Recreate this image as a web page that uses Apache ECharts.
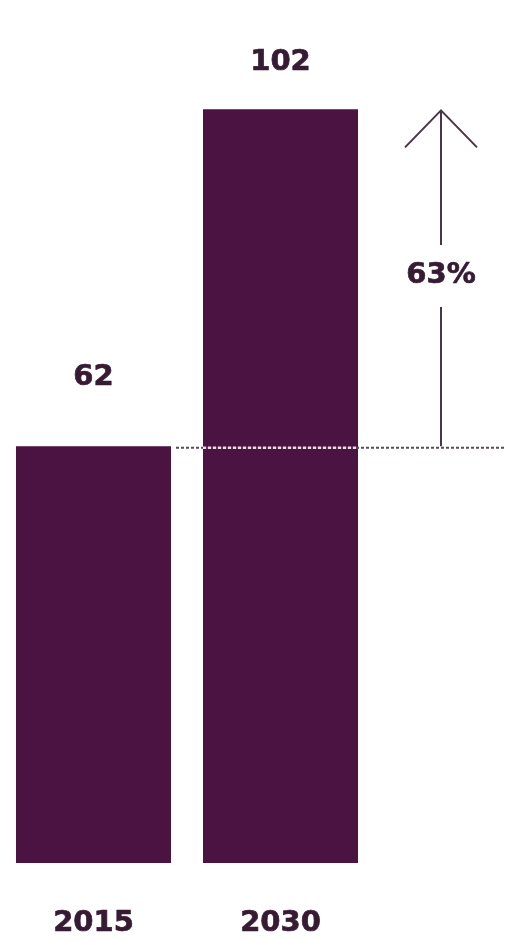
<!DOCTYPE html>
<html>
<head>
<meta charset="utf-8">
<script src="https://cdn.jsdelivr.net/npm/echarts@6/dist/echarts.min.js"></script>
<style>
  html, body { margin: 0; padding: 0; background: #ffffff; }
  #chart { width: 506px; height: 941px; }
</style>
</head>
<body>
<div id="chart"></div>
<script>
// Years and totals
const categories = ['2015', '2030'];
const values = [62, 102];
const growthLabel = '63%';

const BAR = '#4a1342';
const TEXT = '#361b33';
const FONT = '"DejaVu Sans", sans-serif';
const SIZE = 29;

const chart = echarts.init(document.getElementById('chart'));

// Label gap above each bar
const labelGap = [54, 32];

const heavyText = {
  color: TEXT,
  fontFamily: FONT,
  fontWeight: 'bold',
  fontSize: SIZE,
  textBorderColor: TEXT,
  textBorderWidth: 0.7
};

chart.setOption({
  animation: false,
  grid: { left: 0, right: 132, top: 42, bottom: 78 },
  xAxis: {
    type: 'category',
    data: categories,
    axisLine: { show: false },
    axisTick: { show: false },
    axisLabel: Object.assign({ margin: 46 }, heavyText)
  },
  yAxis: {
    type: 'value',
    min: 12.5,
    max: 110,
    show: false,
    splitLine: { show: false }
  },
  series: [{
    type: 'bar',
    barWidth: 155,
    itemStyle: { color: BAR },
    data: values.map((v, i) => ({
      value: v,
      label: { distance: labelGap[i] }
    })),
    label: Object.assign({ show: true, position: 'top' }, heavyText)
  }]
});

// Reference line at the 2015 level and the growth arrow up to the 2030 level
const baseY = chart.convertToPixel({ yAxisIndex: 0 }, values[0]);
const topY = chart.convertToPixel({ yAxisIndex: 0 }, values[1]);
const c1 = chart.convertToPixel({ xAxisIndex: 0 }, categories[0]);
const c2 = chart.convertToPixel({ xAxisIndex: 0 }, categories[1]);
const half = 155 / 2;
const arrowX = 441;
const labelY = 275;
const ARROW = '#4a3447';

chart.setOption({
  graphic: [
    {
      type: 'line', z: 10,
      shape: { x1: c1 + half + 5, y1: baseY + 1.5, x2: 506, y2: baseY + 1.5 },
      style: { stroke: '#5a4a56', lineWidth: 2, lineDash: [3, 2] }
    },
    {
      type: 'line', z: 11,
      shape: { x1: c2 - half, y1: baseY + 1.5, x2: c2 + half, y2: baseY + 1.5 },
      style: { stroke: '#f3d6ee', lineWidth: 2.5, lineDash: [3, 2] }
    },
    {
      type: 'line', z: 10,
      shape: { x1: arrowX, y1: topY + 1, x2: arrowX, y2: labelY - 30 },
      style: { stroke: ARROW, lineWidth: 2 }
    },
    {
      type: 'line', z: 10,
      shape: { x1: arrowX, y1: labelY + 32, x2: arrowX, y2: baseY },
      style: { stroke: ARROW, lineWidth: 2 }
    },
    {
      type: 'polyline', z: 10,
      shape: { points: [[arrowX - 36, topY + 38], [arrowX, topY + 1], [arrowX + 36, topY + 38]] },
      style: { stroke: ARROW, lineWidth: 2, fill: null }
    },
    {
      type: 'text', z: 10,
      x: arrowX, y: labelY,
      style: {
        text: growthLabel,
        fill: TEXT,
        stroke: TEXT,
        lineWidth: 0.7,
        font: 'bold ' + SIZE + 'px ' + FONT,
        align: 'center',
        verticalAlign: 'middle'
      }
    }
  ]
});
</script>
</body>
</html>
